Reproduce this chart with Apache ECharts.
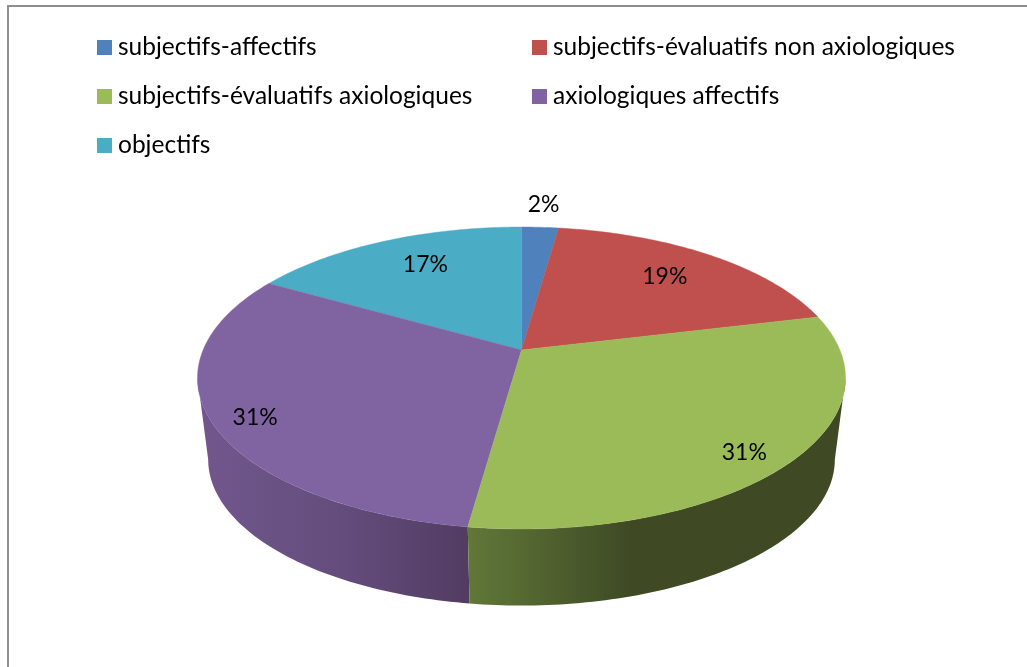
<!DOCTYPE html>
<html><head><meta charset="utf-8">
<style>html,body{margin:0;padding:0;background:#fff}#c{width:1027px;height:667px}</style>
<script src="https://cdn.jsdelivr.net/npm/echarts@6/dist/echarts.min.js"></script>
</head><body><div id="c"></div>
<script>
// data
const categories = ['subjectifs-affectifs','subjectifs-évaluatifs non axiologiques','subjectifs-évaluatifs axiologiques','axiologiques affectifs','objectifs'];
const values = [2.2, 19, 31, 31.1, 16.7];
// styles
const colors = ['#4f81bd','#c0504d','#9bbb59','#8064a2','#4bacc6'];
const wallStops = {
  2: [[468,'#617838'],[560,'#4d5e2d'],[630,'#3f4a25'],[846,'#3f4a25']],
  3: [[197,'#72578d'],[340,'#644d7d'],[468,'#523c62']]
};
const labelPlace = [[1.233,0],[0.755,-0.9],[0.875,2.8],[0.878,-2.4],[0.745,3]];
// projection of the pie disc
const CX=521.5, CY=350, A=318.4, B=145.8, K=0.1854, WALL_SCALE=0.967, WALL_SHIFT=94;
const FONT='Lato, "Open Sans", sans-serif';
const rad=d=>d*Math.PI/180;
function proj(deg,r){
  const x=r*Math.sin(rad(deg)), u=-r*Math.cos(rad(deg)), den=1-K*u;
  return [CX+A*x/den, CY+B*u/den];
}
const low=p=>[CX+(p[0]-CX)*WALL_SCALE, p[1]*WALL_SCALE+WALL_SHIFT];
const total=values.reduce((a,b)=>a+b,0);
const starts=[]; values.reduce((s,v,i)=>{starts[i]=s;return s+v;},0);
const tan=Math.acos(-K)*180/Math.PI; // outline tangents
function arc(a,b){const n=Math.max(2,Math.ceil(Math.abs(b-a)));const o=[];for(let i=0;i<=n;i++)o.push(proj(a+(b-a)*i/n,1));return o;}
function render(i){
  return function(){
    const a0=starts[i]/total*360, a1=(starts[i]+values[i])/total*360;
    const ch=[];
    const fa=Math.max(a0,tan), fb=Math.min(a1,360-tan);
    if(fb>fa){
      const t=arc(fa,fb), pts=t.concat(t.map(low).reverse());
      const st=wallStops[i]||[[0,colors[i]],[1,colors[i]]];
      const x0=st[0][0],x1=st[st.length-1][0];
      ch.push({type:'polygon',shape:{points:pts},style:{fill:new echarts.graphic.LinearGradient(x0,0,x1,0,st.map(s=>({offset:(s[0]-x0)/(x1-x0),color:s[1]})),true)}});
    }
    ch.push({type:'polygon',shape:{points:[proj(0,0)].concat(arc(a0,a1))},style:{fill:colors[i],stroke:colors[i],lineWidth:0.4}});
    const lp=proj((a0+a1)/2+labelPlace[i][1],labelPlace[i][0]);
    ch.push({type:'text',z2:100,style:{x:lp[0],y:lp[1]+1,text:Math.round(values[i]/total*100)+'%',fill:'#000',font:'23px '+FONT,align:'center',verticalAlign:'middle'}});
    return {type:'group',children:ch};
  };
}
const drawOrder=[0,1,4,3,2];
const chart=echarts.init(document.getElementById('c'),null,{renderer:'canvas'});
const legendCommon={orient:'vertical',icon:'rect',itemWidth:15,itemHeight:15,itemGap:24,selectedMode:false,textStyle:{fontFamily:FONT,fontSize:24.5,color:'#000',padding:[0,0,0,1]},padding:0};
chart.setOption({
  animation:false,
  backgroundColor:'#fff',
  legend:[
    Object.assign({},legendCommon,{left:97,top:35,data:[categories[0],categories[2],categories[4]]}),
    Object.assign({},legendCommon,{left:532,top:35,data:[categories[1],categories[3]]})
  ],
  graphic:[{type:'polyline',silent:true,shape:{points:[[8,667],[8,6],[1027,6]]},style:{stroke:'#8e8e8e',lineWidth:2,fill:null}}],
  series:drawOrder.map(i=>({type:'custom',name:categories[i],coordinateSystem:'none',itemStyle:{color:colors[i]},silent:true,renderItem:render(i),data:[values[i]]}))
});
</script></body></html>
